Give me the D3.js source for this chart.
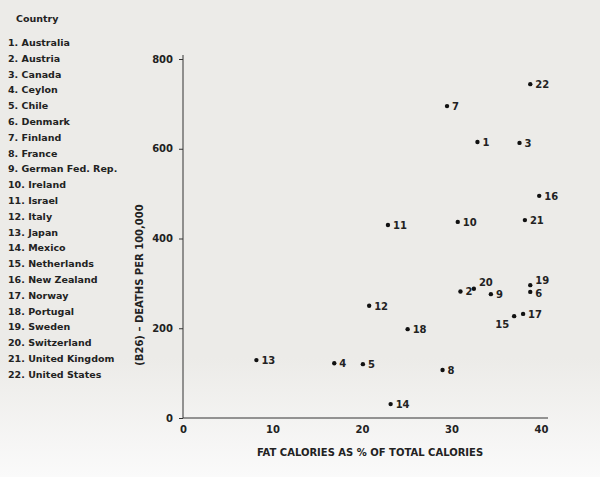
<!DOCTYPE html>
<html><head><meta charset="utf-8">
<script src="https://cdn.jsdelivr.net/npm/d3@7"></script>
<style>body{margin:0;background:#ececea}text{font-family:"DejaVu Sans",sans-serif;fill:#222}</style>
</head><body><svg id="c" width="600" height="477"></svg>
<script>
// country list (legend) and data
const countries = ["Australia","Austria","Canada","Ceylon","Chile","Denmark","Finland","France","German Fed. Rep.","Ireland","Israel","Italy","Japan","Mexico","Netherlands","New Zealand","Norway","Portugal","Sweden","Switzerland","United Kingdom","United States"];
const fatPct = [32.9,31.0,37.6,16.9,20.1,38.8,29.5,29.0,34.4,30.7,22.9,20.8,8.2,23.2,37.0,39.8,38.0,25.1,38.8,32.5,38.2,38.8];
const deaths = [615,282,613,122,120,281,695,107,276,437,430,250,129,31,227,495,232,198,296,288,441,744];
const xTicks = [0,10,20,30,40];
const yTicks = [0,200,400,600,800];
// label offsets that differ from the default (right of dot)
const labelDy = {15:12, 19:-1, 6:5, 20:-3};
const leftLabels = new Set([15]);

const svg = d3.select("#c");
const g = svg.append("defs").append("linearGradient").attr("id","bg").attr("x1",0).attr("x2",0).attr("y1",0).attr("y2",1);
g.append("stop").attr("offset","0.75").attr("stop-color","#ecebe8");
g.append("stop").attr("offset","1").attr("stop-color","#fafafa");
svg.append("rect").attr("width",600).attr("height",477).attr("fill","url(#bg)");

const x = d3.scaleLinear().domain([0,40]).range([183,541]);
const y = d3.scaleLinear().domain([0,800]).range([418,59]);

svg.append("g").attr("transform","translate(0,418)")
  .call(d3.axisBottom(x).tickValues(xTicks).tickSize(0).tickPadding(8))
  .call(a=>{a.select(".domain").attr("stroke","#333").attr("d","M183,0H548");a.selectAll("text").attr("font-size",10).attr("font-weight","bold");});
svg.append("g").attr("transform","translate(183,0)")
  .call(d3.axisLeft(y).tickValues(yTicks).tickSize(4).tickPadding(6))
  .call(a=>{a.select(".domain").attr("stroke","#333").attr("d","M0,418V55");a.selectAll("line").attr("stroke","#333");a.selectAll("text").attr("font-size",10).attr("font-weight","bold");});

svg.append("text").attr("x",370).attr("y",456).attr("text-anchor","middle").attr("font-size",10).attr("font-weight","bold").text("FAT CALORIES AS % OF TOTAL CALORIES");
svg.append("text").attr("transform","translate(143,285) rotate(-90)").attr("text-anchor","middle").attr("font-size",10).attr("font-weight","bold").text("(B26) – DEATHS PER 100,000");

const pts = countries.map((c,i)=>({n:i+1,x:fatPct[i],y:deaths[i]}));
const p = svg.append("g").selectAll("g").data(pts).join("g")
  .attr("transform",d=>`translate(${x(d.x)},${y(d.y)})`);
p.append("circle").attr("r",2.2).attr("fill","#111");
p.append("text").attr("font-size",10).attr("font-weight","bold")
  .attr("x",d=>leftLabels.has(d.n)?-5:5).attr("y",d=>labelDy[d.n]??4)
  .attr("text-anchor",d=>leftLabels.has(d.n)?"end":"start").text(d=>d.n);

const leg = svg.append("g").attr("transform","translate(8,0)");
leg.append("text").attr("x",8).attr("y",22).attr("font-size",9.5).attr("font-weight","bold").text("Country");
leg.selectAll(".l").data(countries).join("text").attr("class","l")
  .attr("x",0).attr("y",(d,i)=>46+i*15.8).attr("font-size",9.5).attr("font-weight","bold")
  .text((d,i)=>`${i+1}. ${d}`);
</script></body></html>
